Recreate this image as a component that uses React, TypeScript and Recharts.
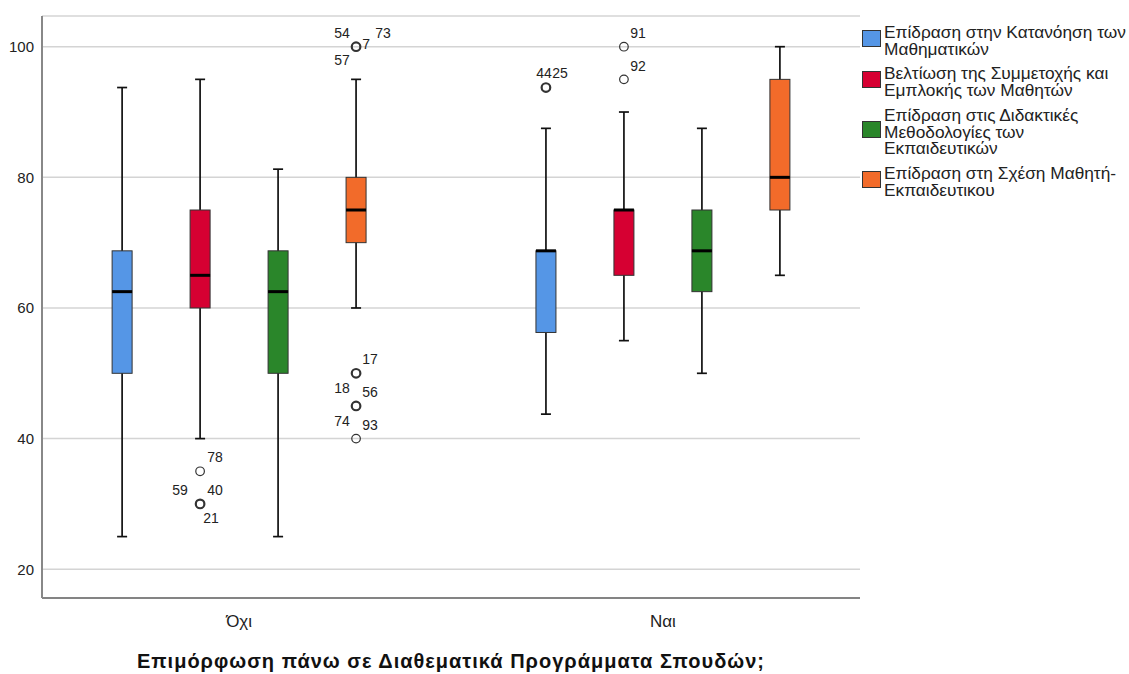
import React from 'react';
import {
  ComposedChart, Bar, Scatter, XAxis, YAxis, CartesianGrid, Legend,
} from 'recharts';

const FONT = '"Liberation Sans", Arial, sans-serif';

const groupLabels = ['Όχι', 'Ναι'];

const seriesNames = [
  'Επίδραση στην Κατανόηση των\nΜαθηματικών',
  'Βελτίωση της Συμμετοχής και\nΕμπλοκής των Μαθητών',
  'Επίδραση στις Διδακτικές\nΜεθοδολογίες των\nΕκπαιδευτικών',
  'Επίδραση στη Σχέση Μαθητή-\nΕκπαιδευτικου',
];
const seriesColors = ['#5596e6', '#d60032', '#2a862a', '#f26b2a'];

// box statistics, [group][series]
const lowWhisker = [[25, 40, 25, 60], [43.75, 55, 50, 65]];
const q1 = [[50, 60, 50, 70], [56.25, 65, 62.5, 75]];
const median = [[62.5, 65, 62.5, 75], [68.75, 75, 68.75, 80]];
const q3 = [[68.75, 75, 68.75, 80], [68.75, 75, 75, 95]];
const highWhisker = [[93.75, 95, 81.25, 95], [87.5, 90, 87.5, 100]];

const outliers = [
  { group: 0, series: 1, value: 35, cases: ['78'] },
  { group: 0, series: 1, value: 30, cases: ['59', '40', '21'] },
  { group: 0, series: 3, value: 100, cases: ['54', '7', '73', '57'] },
  { group: 0, series: 3, value: 50, cases: ['17', '18'] },
  { group: 0, series: 3, value: 45, cases: ['56', '74'] },
  { group: 0, series: 3, value: 40, cases: ['93'] },
  { group: 1, series: 0, value: 93.75, cases: ['44', '25'] },
  { group: 1, series: 1, value: 100, cases: ['91'] },
  { group: 1, series: 1, value: 95, cases: ['92'] },
];

const yTicks = [20, 40, 60, 80, 100];

// where each case label sits next to its circle (px)
const caseLabelOffsets: Record<string, [number, number]> = {
  '78': [15, -14], '59': [-20, -14], '40': [15, -14], '21': [11, 14],
  '54': [-14, -14], '7': [10, -3], '73': [27, -14], '57': [-14, 13],
  '17': [14, -14], '18': [-14, 15], '56': [14, -14], '74': [-14, 15], '93': [14, -14],
  '44': [-2, -15], '25': [14, -15], '91': [14, -14], '92': [14, -13],
};

const BOX_STEP = 0.184;
const X_DOMAIN = [0.535, 2.465];
const boxX = (g: number, s: number) => g + 1 + (s - 1.5) * BOX_STEP;

const boxRows = groupLabels.flatMap((_, gi) =>
  seriesNames.map((__, si) => ({
    x: boxX(gi, si),
    series: si,
    whisker: [lowWhisker[gi][si], highWhisker[gi][si]],
    box: [q1[gi][si], q3[gi][si]],
    med: [q1[gi][si], median[gi][si]],
  }))
);

const outlierRows = outliers.map((o) => ({
  x: boxX(o.group, o.series),
  y: o.value,
  cases: o.cases,
}));

const WhiskerShape = (props: any) => {
  const { x, y, width, height } = props;
  const cx = x + width / 2;
  const top = Math.min(y, y + height);
  const bottom = Math.max(y, y + height);
  return (
    <g stroke="#111" strokeWidth={1.7}>
      <line x1={cx} x2={cx} y1={top} y2={bottom} />
      <line x1={cx - 5} x2={cx + 5} y1={top} y2={top} />
      <line x1={cx - 5} x2={cx + 5} y1={bottom} y2={bottom} />
    </g>
  );
};

const BoxShape = (props: any) => {
  const { x, y, width, height, payload } = props;
  return (
    <rect
      x={x}
      y={Math.min(y, y + height)}
      width={width}
      height={Math.abs(height)}
      fill={seriesColors[payload.series]}
      stroke="#333"
      strokeWidth={1}
    />
  );
};

const MedianShape = (props: any) => {
  const { x, y, width, height } = props;
  const top = Math.min(y, y + height);
  return <line x1={x} x2={x + width} y1={top} y2={top} stroke="#000" strokeWidth={3} />;
};

const OutlierShape = (props: any) => {
  const { cx, cy, payload } = props;
  const bold = payload.cases.length > 1;
  return (
    <g>
      <circle cx={cx} cy={cy} r={4.3} fill="none" stroke="#333" strokeWidth={bold ? 2.2 : 1.2} />
      {payload.cases.map((c: string) => (
        <text
          key={c}
          x={cx + caseLabelOffsets[c][0]}
          y={cy + caseLabelOffsets[c][1]}
          textAnchor="middle"
          dominantBaseline="central"
          fontSize={14}
          fill="#222"
          fontFamily={FONT}
        >
          {c}
        </text>
      ))}
    </g>
  );
};

const renderLegend = () => (
  <div style={{ fontFamily: FONT, fontSize: 17.3, lineHeight: '16.7px', color: '#222' }}>
    {seriesNames.map((n, i) => (
      <div key={i} style={{ display: 'flex', alignItems: 'center', marginBottom: 8 }}>
        <span
          style={{
            width: 17, height: 15, background: seriesColors[i], border: '1px solid #333',
            position: 'relative', top: -2.5, marginRight: 3, flex: 'none',
          }}
        />
        <span style={{ whiteSpace: 'pre' }}>{n}</span>
      </div>
    ))}
  </div>
);

const App = () => {
  return (
    <div style={{ position: 'absolute', left: 0, top: 0, width: 1129, height: 674, fontFamily: FONT, background: '#fff' }}>
      <ComposedChart
        width={1129}
        height={674}
        data={boxRows}
        margin={{ top: 16, right: 2, bottom: 0, left: 0 }}
      >
        <CartesianGrid vertical={false} stroke="#d4d4d4" strokeWidth={1.5} xAxisId="main" />
        <XAxis
          xAxisId="main"
          type="number"
          dataKey="x"
          domain={X_DOMAIN}
          allowDataOverflow
          ticks={[1, 2]}
          tickFormatter={(v: number) => groupLabels[v - 1]}
          tickLine={false}
          tickMargin={11}
          axisLine={{ stroke: '#666', strokeWidth: 1.5 }}
          tick={{ fontSize: 17, fill: '#222' }}
          height={76}
          label={{
            value: 'Επιμόρφωση πάνω σε Διαθεματικά Προγράμματα Σπουδών;',
            position: 'insideBottom',
            offset: 6,
            fontSize: 20,
            fontWeight: 'bold',
            letterSpacing: 1,
            fill: '#111',
          }}
        />
        <XAxis xAxisId="box" type="number" dataKey="x" domain={X_DOMAIN} allowDataOverflow hide height={0} />
        <XAxis xAxisId="med" type="number" dataKey="x" domain={X_DOMAIN} allowDataOverflow hide height={0} />
        <YAxis
          type="number"
          domain={[15.6, 104.7]}
          allowDataOverflow
          ticks={yTicks}
          width={42}
          tickLine={false}
          axisLine={{ stroke: '#888', strokeWidth: 2 }}
          tick={{ fontSize: 15, fill: '#222' }}
        />
        <Bar xAxisId="main" dataKey="whisker" barSize={20} shape={WhiskerShape} isAnimationActive={false} />
        <Bar xAxisId="box" dataKey="box" barSize={20} shape={BoxShape} isAnimationActive={false} />
        <Bar xAxisId="med" dataKey="med" barSize={20} shape={MedianShape} isAnimationActive={false} />
        <Scatter xAxisId="main" data={outlierRows} dataKey="y" shape={OutlierShape} isAnimationActive={false} />
        <Legend
          content={renderLegend}
          layout="vertical"
          verticalAlign="top"
          align="right"
          wrapperStyle={{ left: 862, top: 24, width: 267 }}
        />
      </ComposedChart>
    </div>
  );
};

export default App;
